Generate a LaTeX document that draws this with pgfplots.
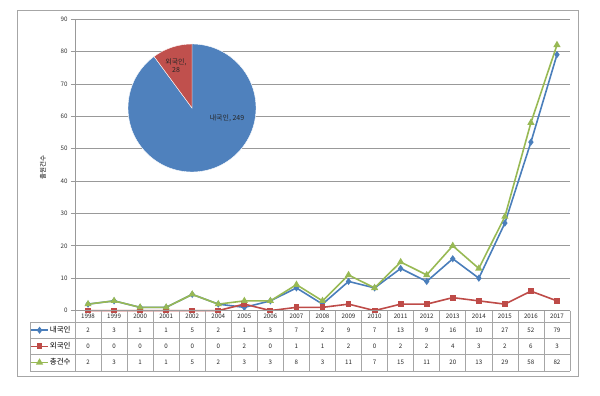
\documentclass[border=0pt]{standalone}
\usepackage{fontspec}
\setmainfont{Noto Sans CJK KR}
\usepackage{pgfplots}
\usepackage{pgfplotstable}
\pgfplotsset{compat=1.18}
\definecolor{cblue}{HTML}{4A7EBB}
\definecolor{cred}{HTML}{BE4B48}
\definecolor{cgreen}{HTML}{98B954}
\definecolor{pblue}{HTML}{4F81BD}
\definecolor{pred}{HTML}{C0504D}
\definecolor{gridc}{HTML}{999999}
\definecolor{tabc}{HTML}{A6A6A6}

\pgfplotstableread{
x year a b c
0 1998 2 0 2
1 1999 3 0 3
2 2000 1 0 1
3 2001 1 0 1
4 2002 5 0 5
5 2004 2 0 2
6 2005 1 2 3
7 2006 3 0 3
8 2007 7 1 8
9 2008 2 1 3
10 2009 9 2 11
11 2010 7 0 7
12 2011 13 2 15
13 2012 9 2 11
14 2013 16 4 20
15 2014 10 3 13
16 2015 27 2 29
17 2016 52 6 58
18 2017 79 3 82
}\data

\begin{document}
\begin{tikzpicture}[x=1pt,y=1pt]
\path[use as bounding box] (0,0) rectangle (600,396);
\draw[tabc, line width=0.8pt] (17,20) rectangle (578,386);
\begin{axis}[
  at={(75pt,85.4pt)}, anchor=south west,
  scale only axis, width=495pt, height=291.6pt,
  xmin=-0.5, xmax=18.5, ymin=0, ymax=90,
  ytick={0,10,...,90},
  xtick=data, xticklabels={},
  axis lines*=left,
  axis line style={gridc, line width=0.6pt},
  x axis line style={draw=none},
  xtick style={draw=none},
  ytick style={gridc, line width=0.6pt},
  tick align=outside, major tick length=4pt,
  ymajorgrids, grid style={gridc, line width=0.6pt},
  clip=false,
  /pgf/number format/assume math mode=true,
  yticklabel style={font=\fontsize{6.2}{7}\selectfont, text=black!80},
  ylabel={출원건수},
  ylabel style={at={(axis description cs:-0.0646,0.49)}, anchor=center, font=\fontsize{6.5}{7}\selectfont},
  legend style={at={(axis description cs:-0.0909,-0.0391)}, anchor=north west,
    draw=none, fill=none, inner sep=0pt, row sep=0pt,
    nodes={inner sep=1pt, minimum height=16.1pt, anchor=west},
    font=\fontsize{7.5}{8}\selectfont},
  legend cell align=left,
  every node near coord/.append style={anchor=center, font=\fontsize{6.2}{7}\selectfont, text=black!85},
]
\addplot[cblue, line width=1.6pt, mark=diamond*, mark size=2.3pt] table[x=x, y=a]{\data};
\addlegendentry{내국인}
\addplot[cred, line width=1.6pt, mark=square*, mark size=2.1pt] table[x=x, y=b]{\data};
\addlegendentry{외국인}
\addplot[cgreen, line width=1.6pt, mark=triangle*, mark size=2.6pt] table[x=x, y=c]{\data};
\addlegendentry{총건수}
% data table rows (labels from the table)
\addplot[draw=none, mark=none, forget plot, nodes near coords={\pgfplotspointmeta}, point meta=explicit symbolic] table[x=x, y expr=-1.76, meta=year]{\data};
\addplot[draw=none, mark=none, forget plot, nodes near coords={\pgfplotspointmeta}, point meta=explicit symbolic] table[x=x, y expr=-6.0, meta=a]{\data};
\addplot[draw=none, mark=none, forget plot, nodes near coords={\pgfplotspointmeta}, point meta=explicit symbolic] table[x=x, y expr=-10.93, meta=b]{\data};
\addplot[draw=none, mark=none, forget plot, nodes near coords={\pgfplotspointmeta}, point meta=explicit symbolic] table[x=x, y expr=-16.0, meta=c]{\data};
\end{axis}
% table grid
\begin{scope}[tabc, line width=0.6pt]
\foreach \k in {0,...,19} {\draw ({75+\k*26.0526},85.4) -- ({75+\k*26.0526},25);}
\draw (30,74) -- (30,25);
\foreach \yy in {74,58,42,25} {\draw (30,\yy) -- (570,\yy);}
\draw[gridc] (75,85.4) -- (570,85.4);
\end{scope}
% pie
\pgfmathsetmacro\pa{28/(249+28)*360}
\fill[pblue, draw=white, line width=0.4pt] (192,288) -- ++(90:64) arc[start angle=90, end angle={90-360+\pa}, radius=64] -- cycle;
\fill[pred, draw=white, line width=0.4pt] (192,288) -- ++(90:64) arc[start angle=90, end angle={90+\pa}, radius=64] -- cycle;
\node[font=\fontsize{7}{8}\selectfont, text=black!85] at (227,278) {내국인, 249};
\node[font=\fontsize{7}{8}\selectfont, text=black!85, align=center] at (176,330) {외국인,\\28};
\end{tikzpicture}
\end{document}
